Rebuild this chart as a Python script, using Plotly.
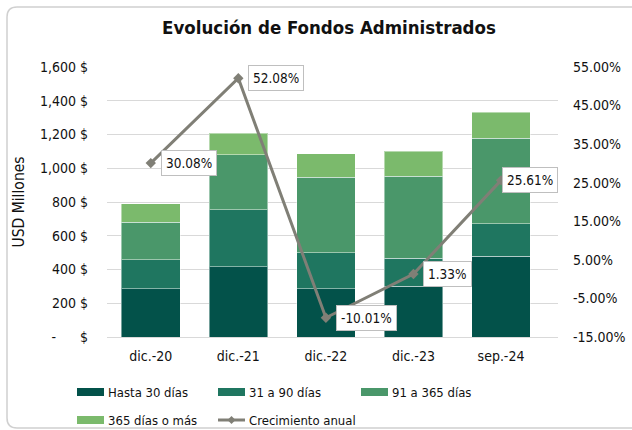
import plotly.graph_objects as go

categories = ["dic.-20", "dic.-21", "dic.-22", "dic.-23", "sep.-24"]
hasta_30 = [287, 415, 285, 302, 480]
d31_90 = [172, 338, 215, 166, 192]
d91_365 = [221, 328, 448, 486, 507]
d365_mas = [110, 126, 139, 146, 153]
crecimiento = [30.08, 52.08, -10.01, 1.33, 25.61]

series_names = ["Hasta 30 días", "31 a 90 días", "91 a 365 días", "365 días o más"]
line_name = "Crecimiento anual"
colors = ["#03524A", "#1F7660", "#4A976A", "#7BBA6C"]
line_color = "#807F76"

left_ticks = [0, 200, 400, 600, 800, 1000, 1200, 1400, 1600]
left_ticktext = ["-\u00a0\u00a0\u00a0\u00a0\u00a0\u00a0$" if v == 0 else f"{v:,}\u00a0$" for v in left_ticks]
right_ticks = [-15, -5, 5, 15, 25, 35, 45, 55]
right_ticktext = [f"{v:.2f}%" for v in right_ticks]

FONT = "DejaVu Sans Condensed, DejaVu Sans, sans-serif"
W, H = 632, 430
L, R, T, B = 107, 74, 67, 93
pw, ph = W - L - R, H - T - B

def px_x(x):
    return (x - L) / pw

def px_y(y):
    return (H - B - y) / ph

fig = go.Figure()
for name, vals, col in zip(series_names, [hasta_30, d31_90, d91_365, d365_mas], colors):
    fig.add_trace(go.Bar(x=categories, y=vals, name=name, marker_color=col,
                         marker_line=dict(color="rgba(255,255,255,0.45)", width=1),
                         showlegend=False))

fig.add_trace(go.Scatter(x=categories, y=crecimiento, name=line_name, yaxis="y2",
                         mode="lines+markers",
                         line=dict(color=line_color, width=3),
                         marker=dict(symbol="diamond", size=8, color=line_color),
                         showlegend=False))

xshifts = [10, 10, 10, 10, 1]
annotations = []
for c, v, xs in zip(categories, crecimiento, xshifts):
    annotations.append(dict(x=c, y=v, xref="x", yref="y2", text=f"{v:.2f}%",
                            showarrow=False, xanchor="left", yanchor="middle", xshift=xs,
                            font=dict(family=FONT, size=13.5, color="#111111"),
                            bgcolor="white", bordercolor="#BFBFBF", borderwidth=1, borderpad=4))

# custom legend
shapes = []
leg_items = [
    (series_names[0], colors[0], 77, 392, "bar"),
    (series_names[1], colors[1], 218, 392, "bar"),
    (series_names[2], colors[2], 361, 392, "bar"),
    (series_names[3], colors[3], 77, 420, "bar"),
    (line_name, line_color, 218, 420, "line"),
]
for name, col, x0, yc, kind in leg_items:
    if kind == "bar":
        shapes.append(dict(type="rect", xref="paper", yref="paper",
                           x0=px_x(x0), x1=px_x(x0 + 27), y0=px_y(yc - 4), y1=px_y(yc + 4),
                           fillcolor=col, line=dict(width=0)))
    else:
        shapes.append(dict(type="line", xref="paper", yref="paper",
                           x0=px_x(x0), x1=px_x(x0 + 27), y0=px_y(yc), y1=px_y(yc),
                           line=dict(color=col, width=3)))
        cx = x0 + 13.5
        shapes.append(dict(type="path", xref="paper", yref="paper",
                           path=(f"M {px_x(cx-4)} {px_y(yc)} L {px_x(cx)} {px_y(yc-4)} "
                                 f"L {px_x(cx+4)} {px_y(yc)} L {px_x(cx)} {px_y(yc+4)} Z"),
                           fillcolor=col, line=dict(color=col, width=0)))
    annotations.append(dict(x=px_x(x0 + 29), y=px_y(yc), xref="paper", yref="paper",
                            text=name, showarrow=False, xanchor="left", yanchor="middle",
                            font=dict(family=FONT, size=13, color="#111111")))

# rounded outer border
bx0, bx1, by0, by1, r = 7, 642, 7, 428, 10
path = (f"M {px_x(bx0+r)} {px_y(by0)} L {px_x(bx1-r)} {px_y(by0)} "
        f"Q {px_x(bx1)} {px_y(by0)} {px_x(bx1)} {px_y(by0+r)} "
        f"L {px_x(bx1)} {px_y(by1-r)} Q {px_x(bx1)} {px_y(by1)} {px_x(bx1-r)} {px_y(by1)} "
        f"L {px_x(bx0+r)} {px_y(by1)} Q {px_x(bx0)} {px_y(by1)} {px_x(bx0)} {px_y(by1-r)} "
        f"L {px_x(bx0)} {px_y(by0+r)} Q {px_x(bx0)} {px_y(by0)} {px_x(bx0+r)} {px_y(by0)} Z")
shapes.append(dict(type="path", xref="paper", yref="paper", path=path,
                   line=dict(color="#D0D0D0", width=1.5), layer="below"))

fig.update_layout(
    width=W, height=H,
    margin=dict(l=L, r=R, t=T, b=B, autoexpand=False),
    barmode="stack", bargap=0.33,
    paper_bgcolor="white", plot_bgcolor="white",
    font=dict(family=FONT, size=14, color="#111111"),
    title=dict(text="<b>Evolución de Fondos Administrados</b>", x=329 / W, xanchor="center",
               y=1 - 28 / H, yanchor="middle",
               font=dict(family=FONT, size=18.5, color="#111111")),
    xaxis=dict(showgrid=False, showline=True, linecolor="#D9D9D9", linewidth=1,
               ticks="", tickfont=dict(size=14), ticklabelstandoff=6),
    yaxis=dict(range=[0, 1600], tickvals=left_ticks, ticktext=left_ticktext,
               showgrid=True, gridcolor="#D9D9D9", gridwidth=1, zeroline=False,
               ticks="", ticklabelstandoff=18, tickfont=dict(size=14),
               title=dict(text="USD Millones", standoff=11, font=dict(size=15.5))),
    yaxis2=dict(range=[-15, 55], tickvals=right_ticks, ticktext=right_ticktext,
                overlaying="y", side="right", showgrid=False, zeroline=False,
                ticks="", ticklabelstandoff=14, tickfont=dict(size=14)),
    showlegend=False,
    annotations=annotations,
    shapes=shapes,
)

fig.write_html("out.html", config={"displayModeBar": False},
               post_script="document.body.style.margin='0';document.body.style.overflow='hidden';")
